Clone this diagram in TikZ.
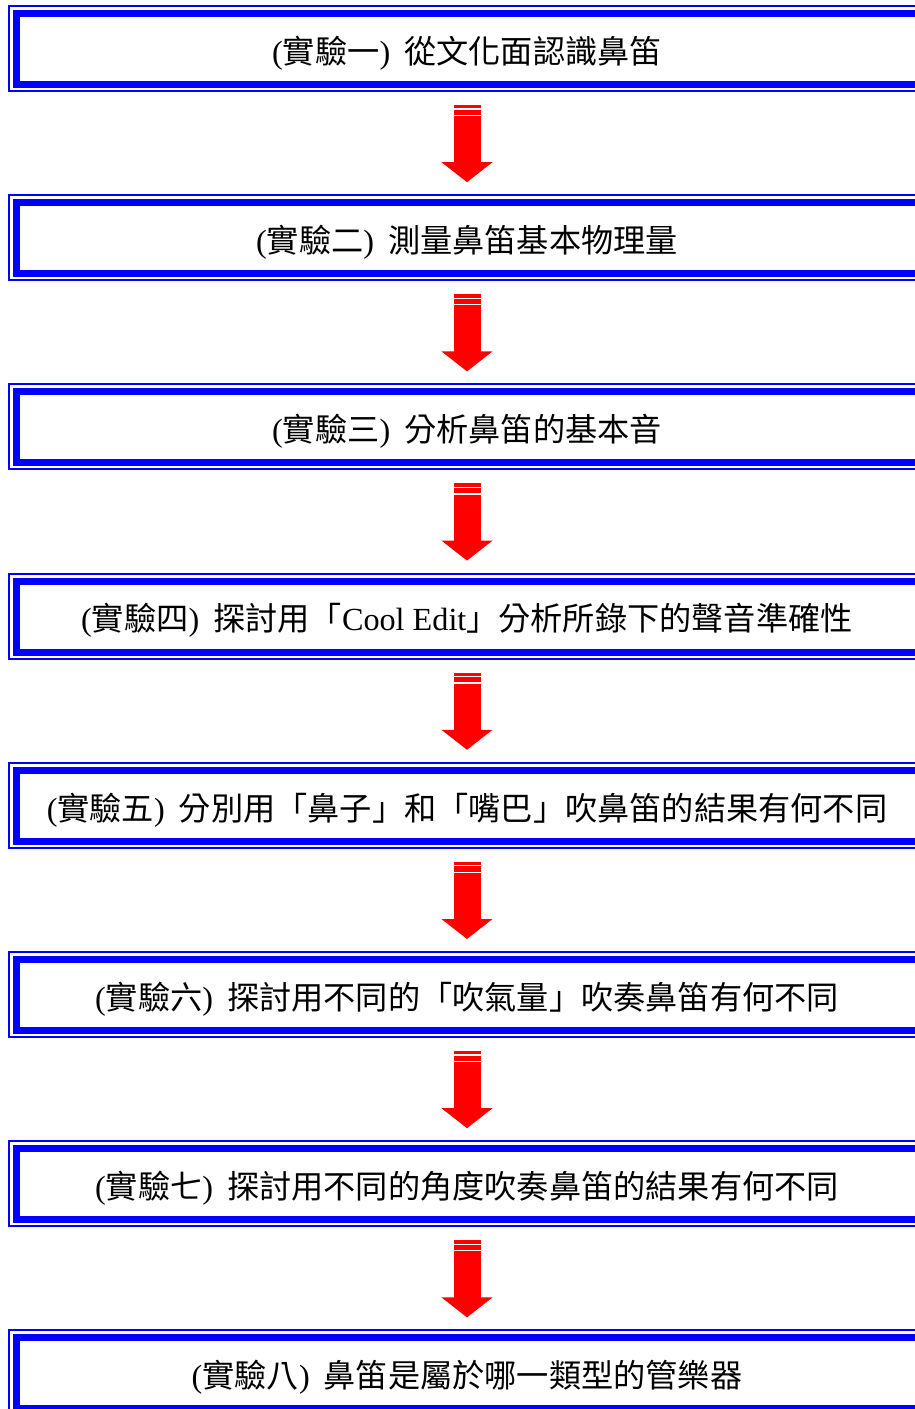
\documentclass[tikz,border=0pt]{standalone}
\usepackage{fontspec}
\setmainfont{Noto Sans CJK TC}
\newfontfamily\latf{Liberation Serif}
\usetikzlibrary{arrows.meta,calc}
\definecolor{boxblue}{RGB}{0,0,255}
\definecolor{arrred}{RGB}{255,0,0}
\newcommand{\Lp}{{\latf(}}
\newcommand{\Rp}{{\latf)}\hspace{14pt}}
\newcommand{\Lt}[1]{{\latf #1}}
\begin{document}
\begin{tikzpicture}[x=1pt,y=-1pt,
  outerbox/.style={draw=boxblue,line width=2pt,minimum width=1100pt,minimum height=85pt,inner sep=0pt,outer sep=0pt,anchor=north west},
  innerbox/.style={draw=boxblue,line width=7pt,minimum width=1100pt,minimum height=71pt,inner sep=0pt,outer sep=0pt,anchor=north west},
  label/.style={font=\fontsize{32.2}{37}\selectfont,inner sep=0pt,anchor=center,text=black},
  redarrow/.style={draw=arrred,line width=27pt,line cap=butt,-{Triangle[width=50pt,length=20pt]}},
  stripe/.style={draw=white,line width=1.3pt}]
\useasboundingbox (0,0) rectangle (915,1409);
\clip (0,0) rectangle (915,1409);
\fill[white] (0,0) rectangle (915,1409);
\foreach \i/\tx in {
  1/{\Lp 實驗一\Rp 從文化面認識鼻笛},
  2/{\Lp 實驗二\Rp 測量鼻笛基本物理量},
  3/{\Lp 實驗三\Rp 分析鼻笛的基本音},
  4/{\Lp 實驗四\Rp 探討用「\Lt{Cool Edit}」分析所錄下的聲音準確性},
  5/{\Lp 實驗五\Rp 分別用「鼻子」和「嘴巴」吹鼻笛的結果有何不同},
  6/{\Lp 實驗六\Rp 探討用不同的「吹氣量」吹奏鼻笛有何不同},
  7/{\Lp 實驗七\Rp 探討用不同的角度吹奏鼻笛的結果有何不同},
  8/{\Lp 實驗八\Rp 鼻笛是屬於哪一類型的管樂器}}{
  \pgfmathsetmacro{\top}{5+189.2*(\i-1)}
  \node[outerbox] (o\i) at (9,\top+1) {};
  \node[innerbox] (b\i) at (16.5,\top+8.5) {};
  \node[label] (t\i) at (467,\top+48) {\tx};
}
\foreach \i [evaluate=\i as \j using int(\i+1)] in {1,...,7}{
  \coordinate (a\i) at ($(t\i|-o\i.south)+(0,14)$);
  \coordinate (e\i) at ($(t\j|-o\j.north)+(0,-13)$);
  \draw[redarrow] (a\i) -- (e\i);
  \draw[stripe] ($(a\i)+(-14,4)$) -- ($(a\i)+(14,4)$);
  \draw[stripe] ($(a\i)+(-14,10.5)$) -- ($(a\i)+(14,10.5)$);
}
\end{tikzpicture}
\end{document}
